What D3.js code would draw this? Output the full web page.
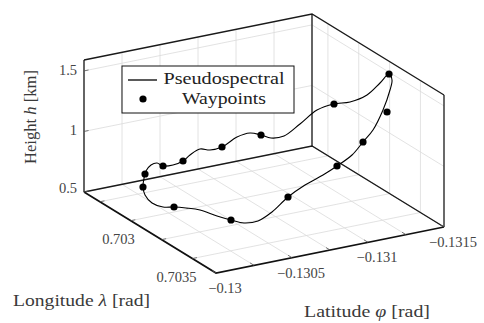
<!DOCTYPE html>
<html>
<head>
<meta charset="utf-8">
<script src="https://cdn.jsdelivr.net/npm/d3@7"></script>
<style>
  body { margin: 0; background: #fff; }
  svg { display: block; font-family: "Liberation Serif", "DejaVu Serif", serif; }
  .grid { stroke: #dadada; stroke-width: 0.8; fill: none; }
  .box { stroke: #1a1a1a; stroke-width: 1.3; fill: none; }
  .axisLine { stroke: #111; stroke-width: 1.7; fill: none; }
  .tickMark { stroke: #555; stroke-width: 0.8; }
  .tickLabel { font-size: 14.5px; fill: #444; }
  .axisLabel { font-size: 17.5px; fill: #3a3a3a; }
  .legendText { font-size: 16.5px; fill: #222; }
  .trajectory { stroke: #000; stroke-width: 1.1; fill: none; }
  .waypoint { fill: #000; }
</style>
</head>
<body>
<script>
// axis limits
const latRange = [-0.13, -0.1315];
const lonRange = [0.702621, 0.703691];
const heightRange = [0.5, 1.59];

// ticks and grid
const latTicks = [-0.13, -0.1305, -0.131, -0.1315];
const lonTicks = [0.703, 0.7035];
const heightTicks = [0.5, 1, 1.5];
const latGrid = [-0.13, -0.13025, -0.1305, -0.13075, -0.131, -0.13125, -0.1315];
const lonGrid = [0.70275, 0.703, 0.70325, 0.7035];

// pseudospectral trajectory
const pathLat = [
    -0.1303324, -0.1302778, -0.130248, -0.1302702, -0.1303246,
    -0.1303662, -0.1304097, -0.1304259, -0.130453,
    -0.1304638, -0.1305103, -0.1306131, -0.1307743,
    -0.1308966, -0.1309981, -0.1310716,
    -0.1311858, -0.1312962,
    -0.1313449, -0.1314091, -0.1314586, -0.1314906, -0.1314948,
    -0.1314655, -0.1314217, -0.1313886, -0.1313616,
    -0.131268, -0.131149, -0.131022, -0.1309609, -0.1309455,
    -0.1309168, -0.1308691, -0.1307532,
    -0.1306891, -0.1306672, -0.1305889, -0.1305253,
    -0.1304728, -0.1304544,
    -0.1304391, -0.1304128, -0.1303591, -0.1303497
];
const pathLon = [
    0.7026896, 0.7027732, 0.7028668, 0.7029285, 0.7029507,
    0.7029967, 0.7030567, 0.7031745, 0.7032544,
    0.7033465, 0.7034027, 0.7033896, 0.7033207,
    0.7033077, 0.7033286, 0.7033515,
    0.7033326, 0.7032855,
    0.7033065, 0.7033085, 0.7033043, 0.7032811, 0.7032517,
    0.7032147, 0.7031634, 0.7030664, 0.7029699,
    0.7029474, 0.7029561, 0.7029831, 0.7029528, 0.7028909,
    0.7028369, 0.7027904, 0.7028116,
    0.7027933, 0.7027392, 0.7027546, 0.7027763,
    0.7027598, 0.7027016,
    0.7026718, 0.7026555, 0.702681, 0.7026847
];
const pathHeight = [
    0.5, 0.5, 0.5, 0.5, 0.5,
    0.51, 0.52, 0.54, 0.55,
    0.58, 0.62, 0.66, 0.7,
    0.76, 0.83, 0.9,
    0.95, 1.0,
    1.1, 1.25, 1.4, 1.46, 1.49,
    1.4, 1.28, 1.17, 1.1,
    1.06, 0.98, 0.93, 0.91, 0.9,
    0.89, 0.84, 0.8,
    0.78, 0.76, 0.74, 0.72,
    0.69, 0.65,
    0.66, 0.64, 0.62, 0.6
];

// waypoints
const waypointLat = [-0.1303324, -0.1303246, -0.130453, -0.1307743, -0.1310716, -0.1312962, -0.1314948,
    -0.1313616, -0.1309455, -0.1307532, -0.1305253, -0.1304544, -0.1303497, -0.1314618];
const waypointLon = [0.7026896, 0.7029507, 0.7032544, 0.7033207, 0.7033515, 0.7032855, 0.7032517,
    0.7029699, 0.7028909, 0.7028116, 0.7027763, 0.7027016, 0.7026847, 0.7032762];
const waypointHeight = [0.5, 0.5, 0.55, 0.7, 0.9, 1.0, 1.49, 1.1, 0.9, 0.8, 0.72, 0.65, 0.6, 1.2];

const legendItems = ["Pseudospectral", "Waypoints"];

class TrajectoryChart {

    constructor () {
        this.width = 484;
        this.height = 323;
        // screen position of the (lat max, lon min, height min) corner and the box edge vectors
        this.origin = {x: 84, y: 192};
        this.latVec = {x: 228, y: -46};
        this.lonVec = {x: 132, y: 81};

        this.latScale = d3.scaleLinear().domain(latRange).range([0, 1]);
        this.lonScale = d3.scaleLinear().domain(lonRange).range([0, 1]);
        this.heightScale = d3.scaleLinear().domain(heightRange).range([0, 132]);

        this.svg = d3.select("body").append("svg")
            .attr("width", this.width)
            .attr("height", this.height);
        this.line = d3.line();
    };

    project (lat, lon, h) {
        let u = this.latScale(lat);
        let v = this.lonScale(lon);
        return [this.origin.x + u * this.latVec.x + v * this.lonVec.x,
                this.origin.y + u * this.latVec.y + v * this.lonVec.y - this.heightScale(h)];
    }

    fmt (d) {
        return d < 0 ? "\u2212" + Math.abs(d) : String(d);
    }

    drawSegments (segments, cls) {
        let self = this;
        this.svg.append("g").selectAll("path")
            .data(segments)
            .enter().append("path")
            .attr("class", cls)
            .attr("d", function (s) {
                return self.line(s.map(p => self.project(p[0], p[1], p[2])));
            });
    }

    update () {
        let latA = latRange[0], latB = latRange[1];
        let lonA = lonRange[0], lonB = lonRange[1];
        let hA = heightRange[0], hB = heightRange[1];

        //grid on floor and the two back walls
        let grid = [];
        for (let g of latGrid) {
            grid.push([[g, lonA, hA], [g, lonB, hA]]);
            grid.push([[g, lonA, hA], [g, lonA, hB]]);
        }
        for (let g of lonGrid) {
            grid.push([[latA, g, hA], [latB, g, hA]]);
            grid.push([[latB, g, hA], [latB, g, hB]]);
        }
        for (let g of heightTicks) {
            grid.push([[latA, lonA, g], [latB, lonA, g]]);
            grid.push([[latB, lonA, g], [latB, lonB, g]]);
        }
        this.drawSegments(grid, "grid");

        //box edges
        let box = [
            [[latA, lonA, hB], [latB, lonA, hB], [latB, lonB, hB]],
            [[latA, lonA, hA], [latA, lonA, hB]],
            [[latB, lonA, hA], [latB, lonA, hB]],
            [[latB, lonB, hA], [latB, lonB, hB]],
            [[latA, lonA, hA], [latB, lonA, hA], [latB, lonB, hA]]
        ];
        this.drawSegments(box, "box");
        this.drawSegments([[[latA, lonA, hA], [latA, lonB, hA], [latB, lonB, hA]]], "axisLine");

        //small tick marks
        let dLon = (lonB - lonA) * 0.03;
        let dLat = (latB - latA) * 0.02;
        let marks = [];
        for (let g of latGrid) marks.push([[g, lonB, hA], [g, lonB - dLon, hA]]);
        for (let g of lonGrid) marks.push([[latA, g, hA], [latA + dLat, g, hA]]);
        for (let g of heightTicks) marks.push([[latA, lonA, g], [latA + dLat, lonA, g]]);
        this.drawSegments(marks, "tickMark");

        //tick labels
        let self = this;
        let labels = this.svg.append("g");
        labels.selectAll("text.lat")
            .data(latTicks)
            .enter().append("text")
            .attr("class", "tickLabel lat")
            .attr("text-anchor", "middle")
            .attr("x", d => self.project(d, lonB, hA)[0] + 9)
            .attr("y", d => self.project(d, lonB, hA)[1] + 20)
            .text(d => self.fmt(d));
        labels.selectAll("text.lon")
            .data(lonTicks)
            .enter().append("text")
            .attr("class", "tickLabel lon")
            .attr("text-anchor", "end")
            .attr("x", d => self.project(latA, d, hA)[0] + 4)
            .attr("y", d => self.project(latA, d, hA)[1] + 23)
            .text(d => self.fmt(d));
        labels.selectAll("text.h")
            .data(heightTicks)
            .enter().append("text")
            .attr("class", "tickLabel h")
            .attr("text-anchor", "end")
            .attr("x", d => self.project(latA, lonA, d)[0] - 7)
            .attr("y", d => self.project(latA, lonA, d)[1] + (d == hA ? 1 : 4))
            .text(d => self.fmt(d));

        //axis labels
        let lonLabel = this.svg.append("text")
            .attr("class", "axisLabel")
            .attr("x", 13).attr("y", 306)
            .attr("textLength", 137).attr("lengthAdjust", "spacingAndGlyphs");
        lonLabel.append("tspan").text("Longitude ");
        lonLabel.append("tspan").attr("font-style", "italic").text("\u03BB");
        lonLabel.append("tspan").text(" [rad]");

        let latLabel = this.svg.append("text")
            .attr("class", "axisLabel")
            .attr("x", 304).attr("y", 317)
            .attr("textLength", 126).attr("lengthAdjust", "spacingAndGlyphs");
        latLabel.append("tspan").text("Latitude ");
        latLabel.append("tspan").attr("font-style", "italic").text("\u03C6");
        latLabel.append("tspan").text(" [rad]");

        let hLabel = this.svg.append("text")
            .attr("class", "axisLabel")
            .attr("text-anchor", "middle")
            .attr("transform", "translate(36,117) rotate(-90)")
            .attr("textLength", 94).attr("lengthAdjust", "spacingAndGlyphs");
        hLabel.append("tspan").text("Height ");
        hLabel.append("tspan").attr("font-style", "italic").text("h");
        hLabel.append("tspan").text(" [km]");

        //trajectory
        let pts = pathLat.map((d, i) => self.project(d, pathLon[i], pathHeight[i]));
        this.svg.append("path")
            .attr("class", "trajectory")
            .attr("d", d3.line().curve(d3.curveCatmullRomClosed.alpha(0.5))(pts));

        //waypoints
        this.svg.append("g").selectAll("circle")
            .data(waypointLat)
            .enter().append("circle")
            .attr("class", "waypoint")
            .attr("cx", (d, i) => self.project(d, waypointLon[i], waypointHeight[i])[0])
            .attr("cy", (d, i) => self.project(d, waypointLon[i], waypointHeight[i])[1])
            .attr("r", 3.6);

        //legend
        let legend = this.svg.append("g").attr("transform", "translate(122,66)");
        legend.append("rect")
            .attr("width", 172).attr("height", 47)
            .attr("fill", "#fff").attr("stroke", "#111").attr("stroke-width", 1);
        legend.append("line")
            .attr("x1", 6).attr("x2", 35).attr("y1", 14).attr("y2", 14)
            .attr("stroke", "#000").attr("stroke-width", 1.3);
        legend.append("circle")
            .attr("cx", 21).attr("cy", 33).attr("r", 3.6).attr("fill", "#000");
        legend.selectAll("text")
            .data(legendItems)
            .enter().append("text")
            .attr("class", "legendText")
            .attr("text-anchor", "middle")
            .attr("x", 102)
            .attr("y", (d, i) => 18 + i * 20)
            .attr("textLength", (d, i) => i == 0 ? 121 : 84)
            .attr("lengthAdjust", "spacingAndGlyphs")
            .text(d => d);
    };
}

let chart = new TrajectoryChart();
chart.update();
</script>
</body>
</html>
